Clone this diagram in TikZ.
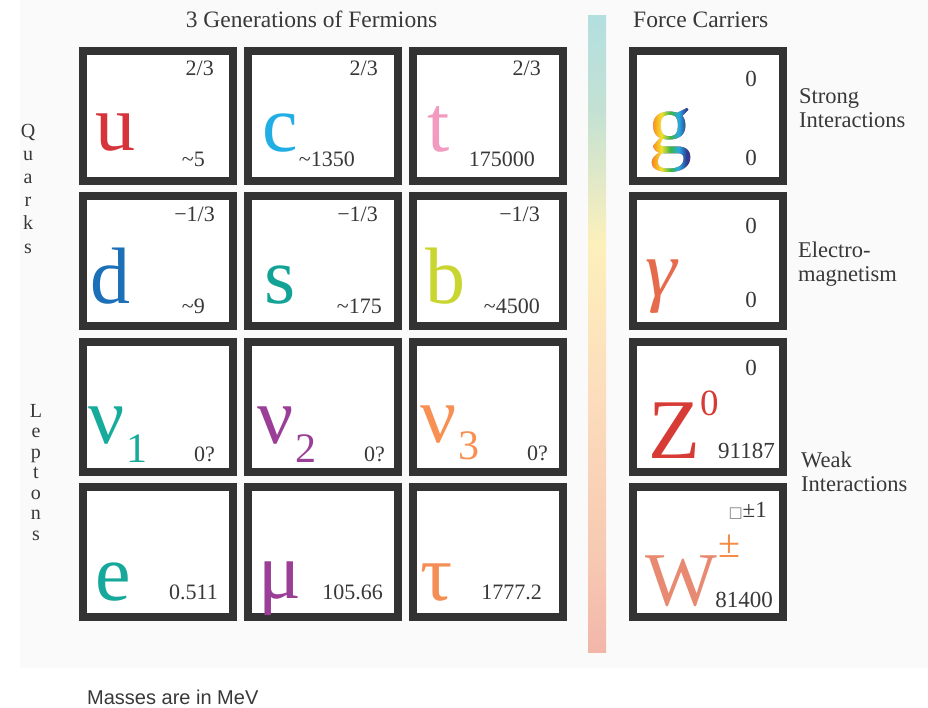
\documentclass[tikz,border=0pt]{standalone}
\usepackage{fontspec}
\setmainfont{Liberation Serif}
\newfontfamily\sansf{Liberation Sans}
\newfontfamily\djv{DejaVu Sans}
\definecolor{boxc}{HTML}{333333}
\definecolor{txt}{HTML}{383838}
\definecolor{bgc}{HTML}{FAFAFA}
\definecolor{ured}{HTML}{D7333B}
\definecolor{ccyan}{HTML}{21AEE5}
\definecolor{tpink}{HTML}{F39AC0}
\definecolor{dblue}{HTML}{1C70B7}
\definecolor{steal}{HTML}{13A396}
\definecolor{byel}{HTML}{C9D62F}
\definecolor{nuone}{HTML}{17AB9B}
\definecolor{nutwo}{HTML}{9B3E97}
\definecolor{nuthree}{HTML}{F79052}
\definecolor{eteal}{HTML}{16A89B}
\definecolor{mupur}{HTML}{9B3E97}
\definecolor{tauor}{HTML}{F58E55}
\definecolor{gamc}{HTML}{E56B4C}
\definecolor{zred}{HTML}{D63C35}
\definecolor{wsal}{HTML}{E88A72}
\definecolor{pmor}{HTML}{F58B45}
\definecolor{barA}{HTML}{B3DFE0}
\definecolor{barB}{HTML}{C3E1D3}
\definecolor{barC}{HTML}{FDF0BB}
\definecolor{barD}{HTML}{FCDDBD}
\definecolor{barE}{HTML}{F7C9B2}
\definecolor{barF}{HTML}{F2B6A9}
\definecolor{rbA}{HTML}{E8262A}
\definecolor{rbB}{HTML}{F7941D}
\definecolor{rbC}{HTML}{F4E12E}
\definecolor{rbD}{HTML}{39B54A}
\definecolor{rbE}{HTML}{27AAE1}
\definecolor{rbF}{HTML}{2B3990}
\definecolor{rbG}{HTML}{92278F}
\pgfdeclareverticalshading{barshade}{100bp}{color(0bp)=(barF); color(25bp)=(barF); color(32.5bp)=(barE); color(45bp)=(barD); color(57bp)=(barC); color(67.5bp)=(barB); color(75bp)=(barA); color(100bp)=(barA)}
\pgfdeclarehorizontalshading{rainbowsh}{100bp}{color(0bp)=(rbA); color(25bp)=(rbA); color(33bp)=(rbB); color(41bp)=(rbC); color(50bp)=(rbD); color(58bp)=(rbE); color(66bp)=(rbF); color(75bp)=(rbG); color(100bp)=(rbG)}
\begin{document}
\begin{tikzpicture}[x=1pt,y=-1pt,
  pbox/.style={draw=boxc, line width=8pt, fill=white, minimum width=150pt, minimum height=130pt, inner sep=0pt},
  big/.style={inner sep=0pt, anchor=base west, font=\fontsize{80}{80}\selectfont},
  num/.style={inner sep=0pt, anchor=base east, text=txt, font=\fontsize{22}{22}\selectfont},
  fnum/.style={inner sep=0pt, anchor=base east, text=txt, font=\fontsize{23}{23}\selectfont},
  hdr/.style={inner sep=0pt, text=txt, font=\fontsize{23.5}{23.5}\selectfont},
  lbl/.style={inner sep=0pt, anchor=base west, text=txt, font=\fontsize{22.5}{24}\selectfont},
  side/.style={inner sep=0pt, anchor=base, text=txt}]
\path[use as bounding box] (0,0) rectangle (928,707);
\fill[bgc] (20,0) rectangle (928,668);
% headers
\node[hdr, anchor=base] (hfer) at (311.5,27) {3 Generations of Fermions};
\node[hdr, anchor=base west] (hfc) at (633,27) {Force Carriers};
% gradient bar
\shade[shading=barshade] (588,15) rectangle (606,652);
% boxes
\node[pbox] (bu) at (158,116) {};
\node[pbox] (bc) at (323,116) {};
\node[pbox] (bt) at (487.5,116) {};
\node[pbox] (bd) at (158,261) {};
\node[pbox] (bs) at (323,261) {};
\node[pbox] (bb) at (487.5,261) {};
\node[pbox] (bn1) at (158,406.5) {};
\node[pbox] (bn2) at (323,406.5) {};
\node[pbox] (bn3) at (487.5,406.5) {};
\node[pbox] (be) at (158,552) {};
\node[pbox] (bmu) at (323,552) {};
\node[pbox] (btau) at (487.5,552) {};
\node[pbox] (bg) at (708,116) {};
\node[pbox] (bgam) at (708,261) {};
\node[pbox] (bz) at (708,406.5) {};
\node[pbox] (bw) at (708,552) {};
% side labels
\node[side] (lq) at (28,137) {\fontsize{20}{23.2}\selectfont\begin{tabular}[t]{@{}c@{}}Q\\u\\a\\r\\k\\s\end{tabular}};
\node[side] (ll) at (36,417) {\fontsize{20}{20.5}\selectfont\begin{tabular}[t]{@{}c@{}}L\\e\\p\\t\\o\\n\\s\end{tabular}};
% big letters
\node[big, text=ured] (su) at (95,150) {u};
\node[big, text=ccyan] (sc) at (262,151) {c};
\node[big, text=tpink] (st) at (427,151) {t};
\node[big, text=dblue] (sd) at (90,303) {d};
\node[big, text=steal] (ss) at (264,303) {s};
\node[big, text=byel] (sb) at (425,303) {b};
\node[big, text=nuone] (sn1) at (88,443) {ν\kern2pt\raisebox{-19pt}{\fontsize{42}{42}\selectfont 1}};
\node[big, text=nutwo] (sn2) at (257,443) {ν\kern2pt\raisebox{-19pt}{\fontsize{42}{42}\selectfont 2}};
\node[big, text=nuthree] (sn3) at (420,442) {ν\kern2pt\raisebox{-17pt}{\fontsize{42}{42}\selectfont 3}};
\node[big, text=eteal] (se) at (95,600) {e};
\node[big, text=mupur] (smu) at (258,598) {μ};
\node[big, text=tauor] (stau) at (420,600) {τ};
% rainbow gluon: black glyph, then rainbow shading blended with "lighten"
\node[big, text=black, font=\fontsize{88}{88}\selectfont] (sg) at (648,153) {g};
\begin{scope}[blend mode=lighten]
\shade[shading=rainbowsh] (645,104) rectangle (696,174);
\end{scope}
\node[big, text=gamc, font=\fontsize{80}{80}\selectfont\itshape] (sgam) at (645,296) {γ};
\node[big, text=zred, font=\fontsize{85}{85}\selectfont] (sz) at (648,458) {Z\raisebox{43pt}{\fontsize{37}{37}\selectfont 0}};
\node[big, text=wsal, font=\fontsize{76}{76}\selectfont] (sw) at (645,605) {W\kern2pt\raisebox{48pt}{\fontsize{40}{40}\selectfont\color{pmor}±}};
% charges
\node[num] (qu) at (214,75) {2/3};
\node[num] (qc) at (378,75) {2/3};
\node[num] (qt) at (541,75) {2/3};
\node[num] (qd) at (215,221) {−1/3};
\node[num] (qs) at (378,221) {−1/3};
\node[num] (qb) at (540,221) {−1/3};
% masses
\node[num] (mu1) at (205,166) {\textasciitilde 5};
\node[num] (mc) at (355,166) {\textasciitilde 1350};
\node[num] (mt) at (535,166) {175000};
\node[num] (md) at (205,313) {\textasciitilde 9};
\node[num] (ms) at (382,313) {\textasciitilde 175};
\node[num] (mb) at (540,313) {\textasciitilde 4500};
\node[num] (mn1) at (215,461) {0?};
\node[num] (mn2) at (385,461) {0?};
\node[num] (mn3) at (548,460) {0?};
\node[num] (me) at (218,599) {0.511};
\node[num] (mmu) at (383,599) {105.66};
\node[num] (mtau) at (542,599) {1777.2};
% force carrier numbers
\node[fnum] (qg) at (757,86) {0};
\node[fnum] (mg) at (757,165) {0};
\node[fnum] (qgam) at (757,233) {0};
\node[fnum] (mgam) at (757,307) {0};
\node[fnum] (qz) at (757,375) {0};
\node[fnum] (mz) at (775,458) {91187};
\node[fnum] (qw) at (767,517) {{\djv\fontsize{15}{15}\selectfont\color{gray}□}±1};
\node[fnum] (mw) at (773,607) {81400};
% right labels
\node[lbl] (lstrong) at (799,103) {\begin{tabular}[t]{@{}l@{}}Strong\\Interactions\end{tabular}};
\node[lbl] (lem) at (798,257) {\begin{tabular}[t]{@{}l@{}}Electro-\\magnetism\end{tabular}};
\node[lbl] (lweak) at (801,467) {\begin{tabular}[t]{@{}l@{}}Weak\\Interactions\end{tabular}};
% footnote
\node[inner sep=0pt, anchor=base west, text=txt, font=\sansf\fontsize{20}{20}\selectfont] (foot) at (87,704) {Masses are in MeV};
\end{tikzpicture}
\end{document}
